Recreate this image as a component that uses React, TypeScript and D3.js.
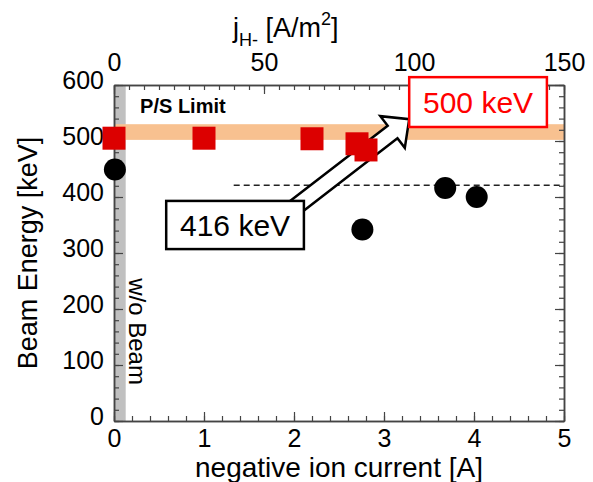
import { useEffect, useRef } from 'react';
import * as d3 from 'd3';

// red squares: beam energy at P/S limit
const squareCurrent = [0, 1.0, 2.2, 2.7, 2.8];
const squareEnergy = [505, 505, 504, 495, 484];

// black circles: measured beam energy
const circleCurrent = [0.01, 2.76, 3.68, 4.03];
const circleEnergy = [449, 342, 416, 400];

// axis ticks
const xTicks = [0, 1, 2, 3, 4, 5];
const yTicks = [0, 100, 200, 300, 400, 500, 600];
const topTicks = [0, 50, 100, 150];

// bands and reference line (data units)
const limitBand = [502, 530];
const noBeamBand = [0, 0.13];
const refLevel = 421;
const refFrom = 1.33;

const FONT = '"Liberation Sans", Arial, Helvetica, sans-serif';

const App = () => {
  const chartRef = useRef<SVGSVGElement>(null);

  useEffect(() => {
    drawChart();
  }, []);

  const drawChart = () => {
    const width = 593;
    const height = 482;
    const margin = { top: 85, right: 29, bottom: 61, left: 114 };

    const svg = d3.select(chartRef.current);
    svg.selectAll('*').remove();

    const x = d3.scaleLinear().domain([0, 5]).range([margin.left, width - margin.right]);
    const xTop = d3.scaleLinear().domain([0, 150]).range([margin.left, width - margin.right]);
    const y = d3.scaleLinear().domain([0, 600]).range([height - margin.bottom, margin.top]);

    svg.append('rect').attr('width', width).attr('height', height).attr('fill', '#fff');

    // w/o beam gray band
    svg.append('rect')
      .attr('x', x(noBeamBand[0]))
      .attr('y', y(600))
      .attr('width', x(noBeamBand[1]) - x(noBeamBand[0]))
      .attr('height', y(0) - y(600))
      .attr('fill', '#c0c0c0');

    // P/S limit band
    svg.append('rect')
      .attr('x', x(0))
      .attr('y', y(limitBand[1]))
      .attr('width', x(5) - x(0))
      .attr('height', y(limitBand[0]) - y(limitBand[1]))
      .attr('fill', '#f8c190');

    // axes
    const styleAxis = (g, fontSize = 25) => {
      g.select('.domain').attr('stroke', '#444').attr('stroke-width', 1.5);
      g.selectAll('.tick line').attr('stroke', '#444').attr('stroke-width', 1.2);
      g.selectAll('text')
        .attr('font-family', FONT)
        .attr('font-size', fontSize)
        .attr('fill', '#000');
    };
    const minor = (g) => {
      g.selectAll('text').remove();
      styleAxis(g);
    };

    const bottom = svg.append('g')
      .attr('transform', `translate(0,${y(0)})`)
      .call(d3.axisBottom(x).tickValues(xTicks).tickSize(-9).tickSizeOuter(0).tickPadding(8).tickFormat(d3.format('d')));
    styleAxis(bottom);
    minor(svg.append('g')
      .attr('transform', `translate(0,${y(0)})`)
      .call(d3.axisBottom(x).tickValues(d3.range(0, 5.001, 0.2)).tickSize(-5).tickSizeOuter(0)));

    const top = svg.append('g')
      .attr('transform', `translate(0,${y(600)})`)
      .call(d3.axisTop(xTop).tickValues(topTicks).tickSize(-9).tickSizeOuter(0).tickPadding(14).tickFormat(d3.format('d')));
    styleAxis(top);
    minor(svg.append('g')
      .attr('transform', `translate(0,${y(600)})`)
      .call(d3.axisTop(xTop).tickValues(d3.range(0, 150.001, 5)).tickSize(-5).tickSizeOuter(0)));

    const left = svg.append('g')
      .attr('transform', `translate(${x(0)},0)`)
      .call(d3.axisLeft(y).tickValues(yTicks).tickSize(-9).tickSizeOuter(0).tickPadding(10).tickFormat(d3.format('d')));
    styleAxis(left);
    left.selectAll('text').attr('dy', '0.12em');
    minor(svg.append('g')
      .attr('transform', `translate(${x(0)},0)`)
      .call(d3.axisLeft(y).tickValues(d3.range(0, 600.001, 20)).tickSize(-5).tickSizeOuter(0)));

    const right = svg.append('g')
      .attr('transform', `translate(${x(5)},0)`)
      .call(d3.axisRight(y).tickValues(yTicks).tickSize(-9).tickSizeOuter(0));
    minor(right);
    minor(svg.append('g')
      .attr('transform', `translate(${x(5)},0)`)
      .call(d3.axisRight(y).tickValues(d3.range(0, 600.001, 20)).tickSize(-5).tickSizeOuter(0)));

    // reference dashed line
    svg.append('line')
      .attr('x1', x(refFrom))
      .attr('x2', x(5))
      .attr('y1', y(refLevel))
      .attr('y2', y(refLevel))
      .attr('stroke', '#222')
      .attr('stroke-width', 1.5)
      .attr('stroke-dasharray', '6,4');

    // circles
    svg.selectAll('.dot')
      .data(circleCurrent)
      .enter().append('circle')
      .attr('class', 'dot')
      .attr('cx', d => x(d))
      .attr('cy', (d, i) => y(circleEnergy[i]))
      .attr('r', 11)
      .attr('fill', '#000');

    // block arrow from 416 keV box to 500 keV box
    const tail = [x(1.87), y(364)];
    const tip = [x(3.28), y(539)];
    const len = Math.hypot(tip[0] - tail[0], tip[1] - tail[1]);
    const u = [(tip[0] - tail[0]) / len, (tip[1] - tail[1]) / len];
    const n = [-u[1], u[0]];
    const w = 8, hw = 20, hl = 21;
    const base = [tip[0] - u[0] * hl, tip[1] - u[1] * hl];
    const pt = (p, k) => [p[0] + n[0] * k, p[1] + n[1] * k];
    const arrowPts = [pt(tail, w), pt(base, w), pt(base, hw), tip, pt(base, -hw), pt(base, -w), pt(tail, -w)];
    svg.append('polygon')
      .attr('points', arrowPts.map(p => p.join(',')).join(' '))
      .attr('fill', '#fff')
      .attr('stroke', '#000')
      .attr('stroke-width', 2.5)
      .attr('stroke-linejoin', 'miter');

    // squares
    const side = 23;
    svg.selectAll('.sq')
      .data(squareCurrent)
      .enter().append('rect')
      .attr('class', 'sq')
      .attr('x', d => x(d) - side / 2)
      .attr('y', (d, i) => y(squareEnergy[i]) - side / 2)
      .attr('width', side)
      .attr('height', side)
      .attr('fill', '#dc0000');

    // annotation boxes
    const box = (x0, x1, yLo, yHi, color, label) => {
      svg.append('rect')
        .attr('x', x(x0))
        .attr('y', y(yHi))
        .attr('width', x(x1) - x(x0))
        .attr('height', y(yLo) - y(yHi))
        .attr('fill', '#fff')
        .attr('stroke', color)
        .attr('stroke-width', 2.5);
      svg.append('text')
        .attr('x', (x(x0) + x(x1)) / 2)
        .attr('y', (y(yLo) + y(yHi)) / 2)
        .attr('dy', '0.36em')
        .attr('text-anchor', 'middle')
        .attr('font-family', FONT)
        .attr('font-size', 30)
        .attr('fill', color)
        .text(label);
    };
    box(3.28, 4.81, 525, 614, '#ff0000', '500 keV');
    box(0.58, 2.11, 307, 393, '#000', '416 keV');

    // inner labels
    svg.append('text')
      .attr('x', x(0.29))
      .attr('y', y(550))
      .attr('font-family', FONT)
      .attr('font-size', 20)
      .attr('font-weight', 'bold')
      .text('P/S Limit');

    svg.append('text')
      .attr('transform', `translate(${x(0.17)},${y(255)}) rotate(90)`)
      .attr('font-family', FONT)
      .attr('font-size', 24)
      .text('w/o Beam');

    // axis titles
    svg.append('text')
      .attr('x', (x(0) + x(5)) / 2)
      .attr('y', 477)
      .attr('text-anchor', 'middle')
      .attr('font-family', FONT)
      .attr('font-size', 28)
      .text('negative ion current [A]');

    svg.append('text')
      .attr('transform', `translate(37,${(y(0) + y(600)) / 2}) rotate(-90)`)
      .attr('text-anchor', 'middle')
      .attr('font-family', FONT)
      .attr('font-size', 27)
      .text('Beam Energy [keV]');

    const topTitle = svg.append('text')
      .attr('x', 233)
      .attr('y', 37)
      .attr('font-family', FONT)
      .attr('font-size', 27);
    topTitle.append('tspan').text('j');
    topTitle.append('tspan').attr('font-size', 18).attr('dy', 9).text('H-');
    topTitle.append('tspan').attr('dy', -9).text(' [A/m');
    topTitle.append('tspan').attr('font-size', 18).attr('dy', -12).text('2');
    topTitle.append('tspan').attr('dy', 12).text(']');
  };

  return (
    <svg
      ref={chartRef}
      width={593}
      height={482}
      style={{ position: 'absolute', left: 0, top: 0 }}
    />
  );
};

export default App;
